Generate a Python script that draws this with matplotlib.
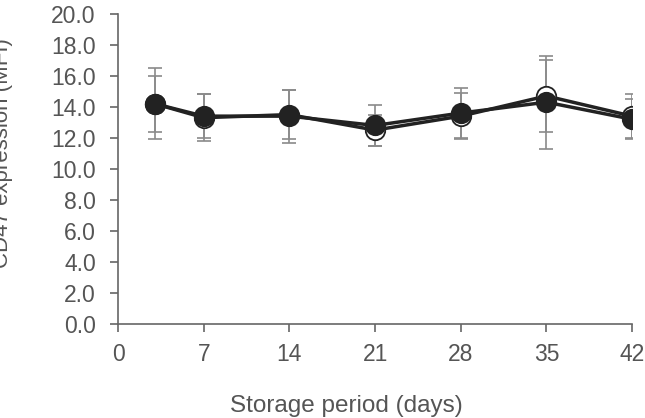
import matplotlib

matplotlib.use("Agg")
import matplotlib.pyplot as plt

days = [3, 7, 14, 21, 28, 35, 42]
open_mean = [14.2, 13.3, 13.5, 12.5, 13.4, 14.7, 13.4]
open_err = [2.3, 1.5, 1.6, 1.0, 1.5, 2.3, 1.4]
filled_mean = [14.2, 13.4, 13.4, 12.8, 13.6, 14.3, 13.2]
filled_err = [1.8, 1.4, 1.7, 1.3, 1.6, 3.0, 1.3]
x_ticks = [0, 7, 14, 21, 28, 35, 42]
y_ticks = [0, 2, 4, 6, 8, 10, 12, 14, 16, 18, 20]

plt.rcParams["font.family"] = ["Liberation Sans", "DejaVu Sans"]
text_color = "#555555"
axis_color = "#666666"

fig = plt.figure(figsize=(6.45, 4.18), dpi=100)
ax = fig.add_axes([0.183, 0.225, 0.797, 0.742])

for mean, err in ((open_mean, open_err), (filled_mean, filled_err)):
    ax.errorbar(days, mean, yerr=err, fmt="none", ecolor="#8a8a8a",
                elinewidth=1.2, capsize=5, capthick=1.2, zorder=2)
for mean, face in ((open_mean, "white"), (filled_mean, "#222222")):
    ax.plot(days, mean, color="#222222", linewidth=2.5, marker="o",
            markersize=14, markerfacecolor=face, markeredgecolor="#222222",
            markeredgewidth=1.3, zorder=3)

ax.set_xlim(0, 42)
ax.set_ylim(0, 20)
ax.set_xticks(x_ticks)
ax.set_yticks(y_ticks)
ax.set_yticklabels([f"{v:.1f}" for v in y_ticks])
for side in ("top", "right"):
    ax.spines[side].set_visible(False)
for side in ("left", "bottom"):
    ax.spines[side].set_color(axis_color)
    ax.spines[side].set_linewidth(1.2)
ax.tick_params(colors=axis_color, labelcolor=text_color, labelsize=16.5,
               length=6, width=1.2, direction="out")
ax.tick_params(axis="x", pad=7.5)
ax.tick_params(axis="y", pad=10)
ax.set_xlabel("Storage period (days)", fontsize=17.5, color=text_color, labelpad=21)
ax.xaxis.label.set_x(0.444)
fig.text(0.004, 0.634, "CD47 expression (MFI)", rotation=90, fontsize=16,
         color=text_color, ha="center", va="center")

fig.savefig("out.png", dpi=100)
